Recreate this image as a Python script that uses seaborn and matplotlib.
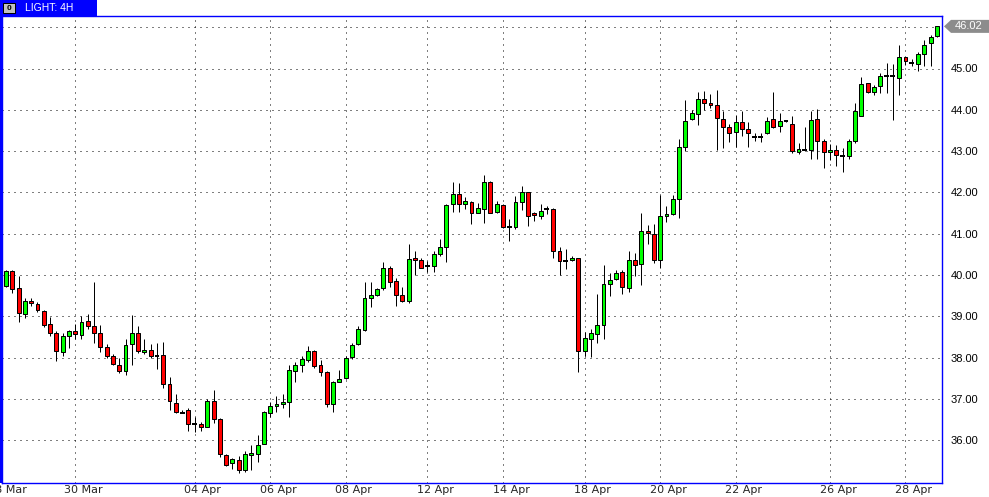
import matplotlib
matplotlib.use("Agg")
import matplotlib.pyplot as plt
from matplotlib.patches import Polygon, Rectangle
import numpy as np
import pandas as pd
import seaborn as sns

# ---------------- data ----------------
opens = [39.74, 40.10, 39.69, 39.06, 39.38, 39.30, 39.13, 38.81, 38.60, 38.14,
         38.52, 38.65, 38.55, 38.89, 38.77, 38.60, 38.26, 38.05, 37.82, 37.68,
         38.32, 38.60, 38.14, 38.19, 38.05, 38.06, 37.35, 36.91, 36.68, 36.72,
         36.39, 36.39, 36.33, 36.94, 36.52, 35.65, 35.44, 35.52, 35.28, 35.65,
         35.67, 35.92, 36.66, 36.82, 36.88, 36.93, 37.67, 37.81, 37.94, 38.16,
         37.82, 37.66, 36.88, 37.41, 37.51, 38.01, 38.33, 38.68, 39.44, 39.52,
         39.68, 40.17, 39.85, 39.51, 39.38, 40.41, 40.37, 40.21, 40.21, 40.50,
         40.68, 41.71, 41.95, 41.71, 41.76, 41.51, 41.61, 42.24, 41.52, 41.69,
         41.17, 41.17, 41.77, 42.00, 41.49, 41.43, 41.59, 41.61, 40.58, 40.35,
         40.36, 40.40, 38.17, 38.46, 38.57, 38.78, 39.78, 39.90, 40.08, 39.68,
         40.37, 40.27, 41.07, 41.00, 40.37, 41.44, 41.48, 41.83, 43.09, 43.77,
         43.89, 44.26, 44.16, 44.11, 43.77, 43.58, 43.46, 43.70, 43.53, 43.35,
         43.35, 43.43, 43.77, 43.61, 43.72, 43.66, 42.99, 43.03, 43.02, 43.77,
         43.24, 42.97, 43.02, 42.89, 42.88, 43.25, 43.86, 44.64, 44.42, 44.57,
         44.81, 44.81, 44.77, 45.27, 45.14, 45.10, 45.34, 45.61, 45.78]

closes = [40.10, 39.66, 39.08, 39.38, 39.32, 39.15, 38.79, 38.60, 38.15, 38.52,
          38.65, 38.56, 38.85, 38.77, 38.60, 38.26, 38.05, 37.85, 37.68, 38.30,
          38.60, 38.16, 38.19, 38.03, 38.04, 37.37, 36.94, 36.68, 36.67, 36.39,
          36.40, 36.32, 36.94, 36.52, 35.66, 35.40, 35.55, 35.29, 35.67, 35.70,
          35.89, 36.69, 36.84, 36.88, 36.93, 37.69, 37.81, 37.97, 38.15, 37.79,
          37.65, 36.88, 37.42, 37.48, 38.00, 38.31, 38.69, 39.44, 39.51, 39.66,
          40.17, 39.84, 39.51, 39.37, 40.39, 40.37, 40.17, 40.21, 40.50, 40.69,
          41.69, 41.95, 41.71, 41.79, 41.51, 41.63, 42.24, 41.51, 41.71, 41.17,
          41.17, 41.77, 42.00, 41.43, 41.45, 41.56, 41.60, 40.58, 40.35, 40.34,
          40.42, 38.17, 38.48, 38.59, 38.78, 39.79, 39.88, 40.06, 39.70, 40.37,
          40.24, 41.06, 41.02, 40.37, 41.44, 41.48, 41.85, 43.11, 43.74, 43.92,
          44.26, 44.16, 44.11, 43.80, 43.58, 43.43, 43.71, 43.53, 43.43, 43.35,
          43.35, 43.74, 43.58, 43.74, 43.72, 43.01, 43.04, 43.03, 43.76, 43.24,
          42.97, 43.02, 42.90, 42.89, 43.25, 43.97, 44.62, 44.42, 44.56, 44.82,
          44.81, 44.81, 45.27, 45.17, 45.14, 45.34, 45.58, 45.76, 46.02]

highs = [40.12, 40.13, 39.97, 39.44, 39.44, 39.35, 39.15, 38.99, 38.65, 38.60,
         38.68, 38.81, 39.00, 39.06, 39.82, 38.80, 38.33, 38.09, 38.00, 38.44,
         39.02, 38.76, 38.46, 38.34, 38.35, 38.37, 37.52, 37.13, 36.73, 36.77,
         36.55, 36.44, 37.00, 37.21, 36.53, 35.66, 35.57, 35.61, 35.73, 35.88,
         36.12, 36.70, 36.92, 37.07, 37.11, 37.81, 37.89, 38.03, 38.27, 38.19,
         37.94, 37.67, 37.43, 37.69, 38.05, 38.35, 38.77, 39.82, 39.82, 39.68,
         40.31, 40.23, 39.92, 39.72, 40.74, 40.59, 40.41, 40.33, 40.57, 40.88,
         41.72, 42.24, 42.22, 41.89, 41.79, 41.75, 42.42, 42.27, 41.79, 41.71,
         41.35, 41.91, 42.15, 42.01, 41.52, 41.72, 41.67, 41.62, 40.68, 40.64,
         40.47, 40.42, 38.62, 38.70, 39.54, 40.24, 40.04, 40.11, 40.11, 40.57,
         40.53, 41.51, 41.20, 41.24, 41.93, 41.66, 41.93, 43.29, 44.24, 44.00,
         44.42, 44.46, 44.39, 44.49, 43.98, 43.66, 43.88, 43.98, 43.70, 43.43,
         43.45, 43.82, 44.43, 43.92, 43.76, 43.84, 43.19, 43.59, 43.98, 44.02,
         43.30, 43.16, 43.15, 43.08, 43.30, 44.17, 44.80, 44.65, 44.61, 44.90,
         45.13, 45.10, 45.56, 45.28, 45.24, 45.40, 45.70, 45.81, 46.02]

lows = [39.72, 39.56, 38.85, 38.95, 39.26, 39.10, 38.73, 38.53, 37.92, 38.05,
        38.23, 38.45, 38.44, 38.69, 38.35, 38.13, 38.00, 37.81, 37.63, 37.58,
        37.83, 38.11, 38.08, 38.00, 37.73, 37.27, 36.74, 36.65, 36.65, 36.23,
        36.19, 36.22, 36.32, 36.42, 35.60, 35.38, 35.30, 35.21, 35.24, 35.28,
        35.48, 35.91, 36.57, 36.69, 36.77, 36.55, 37.40, 37.65, 37.90, 37.74,
        37.55, 36.80, 36.68, 37.40, 37.49, 37.97, 38.31, 38.64, 39.23, 39.50,
        39.63, 39.72, 39.25, 39.35, 39.33, 40.00, 40.16, 40.07, 40.07, 40.47,
        40.31, 41.53, 41.53, 41.59, 41.24, 41.49, 41.27, 41.49, 41.49, 41.14,
        40.83, 41.12, 41.57, 41.19, 41.31, 41.35, 41.47, 40.42, 39.99, 40.15,
        40.35, 37.64, 38.03, 38.02, 38.36, 38.46, 39.50, 39.88, 39.55, 39.60,
        39.97, 39.76, 40.74, 40.28, 40.16, 41.28, 41.46, 41.38, 43.00, 43.75,
        43.62, 44.00, 44.04, 43.03, 43.08, 43.23, 43.11, 43.37, 43.11, 43.25,
        43.23, 43.41, 43.57, 43.47, 43.70, 42.96, 42.94, 43.00, 42.80, 42.80,
        42.58, 42.78, 42.63, 42.50, 42.80, 43.20, 43.84, 44.41, 44.37, 44.41,
        44.41, 43.76, 44.37, 45.09, 45.05, 44.93, 45.06, 45.06, 45.76]

date_labels = ["28 Mar", "30 Mar", "04 Apr", "06 Apr", "08 Apr", "12 Apr",
               "14 Apr", "18 Apr", "20 Apr", "22 Apr", "26 Apr", "28 Apr"]
date_candle = [-1, 11, 30, 42, 54, 67, 79, 92, 104, 116, 131, 143]
price_ticks = [36, 37, 38, 39, 40, 41, 42, 43, 44, 45]
grid_prices = [36, 37, 38, 39, 40, 41, 42, 43, 44, 45, 46]
title_text = "LIGHT: 4H"
last_price = 46.02

df = pd.DataFrame({"open": opens, "high": highs, "low": lows, "close": closes})
df["idx"] = np.arange(len(df))
df["up"] = df["close"] > df["open"]
df["doji"] = (df["close"] - df["open"]).abs() < 0.025

# ---------------- style ----------------
sns.set_style("white")
plt.rcParams["font.family"] = ["Liberation Sans", "DejaVu Sans"]

W, H = 989, 497
fig = plt.figure(figsize=(W / 100, H / 100), dpi=100)
fig.patch.set_facecolor("white")

ax_l, ax_r, ax_t, ax_b = 2, 942, 16, 483
ax = fig.add_axes([ax_l / W, 1 - ax_b / H, (ax_r - ax_l) / W, (ax_b - ax_t) / H])
ax.set_facecolor("white")

px = 1 / 100 * 72  # one pixel in points
BLUE = "#0000ff"
GREEN = "#00ff00"
RED = "#ff0000"

# grid
dot = (0, (1, 5))
for p in grid_prices:
    ax.axhline(p, color="black", lw=px, linestyle=dot, zorder=0)
for c in date_candle:
    ax.axvline(c, color="black", lw=px, linestyle=dot, zorder=0)

# wicks
ax.vlines(df["idx"], df["low"], df["high"], color="black", lw=px, zorder=2)

# bodies
body_w = 0.62
normal = df[~df["doji"]]
colors = np.where(normal["up"], GREEN, RED)
bottoms = np.minimum(normal["open"], normal["close"])
heights = (normal["close"] - normal["open"]).abs()
ax.bar(normal["idx"], heights, bottom=bottoms, width=body_w, color=colors,
       edgecolor="black", linewidth=px, zorder=3)
dj = df[df["doji"]]
ax.hlines(dj["close"], dj["idx"] - body_w / 2 - 0.08, dj["idx"] + body_w / 2 + 0.08,
          color="black", lw=2 * px, zorder=3)

# limits
spacing = 6.29
x0 = 6.0
ax.set_xlim((ax_l - x0) / spacing, (ax_r - x0) / spacing)
ppd = 41.3
y40 = 275
ax.set_ylim(40 - (ax_b - y40) / ppd, 40 + (y40 - ax_t) / ppd)

# ticks
ax.set_xticks([])
ax.yaxis.tick_right()
ax.set_yticks(price_ticks)
ax.set_yticklabels([f"{p:.2f}" for p in price_ticks])
ax.tick_params(axis="y", length=0, pad=6, labelsize=8, labelcolor="black")

for s in ax.spines.values():
    s.set_color(BLUE)
    s.set_linewidth(1.4 * px)
    s.set_visible(True)

# date labels
xtr = ax.get_xaxis_transform()
for lab, c in zip(date_labels, date_candle):
    ax.text(c + 1.3, -0.016, lab, transform=xtr, ha="center", va="center",
            fontsize=8, family=["Liberation Sans Narrow", "DejaVu Sans"],
            clip_on=False)

# last price tag
ytr = ax.get_yaxis_transform()
axw = ax_r - ax_l
def fx(p):
    return (p - ax_l) / axw
dh = 6.5 / ppd
tag = Polygon([(fx(944), last_price), (fx(951), last_price + dh), (fx(989), last_price + dh),
               (fx(989), last_price - dh), (fx(951), last_price - dh)],
              closed=True, transform=ytr, facecolor="#8c8c8c", edgecolor="none",
              clip_on=False, zorder=5)
ax.add_patch(tag)
ax.text(fx(969), last_price, f"{last_price:.2f}", transform=ytr, ha="center",
        va="center", color="white", fontsize=8, clip_on=False, zorder=6)

# left thick blue edge
fig.patches.append(Rectangle((0, 1 - ax_b / H), 2.5 / W, ax_b / H,
                             transform=fig.transFigure, facecolor=BLUE,
                             edgecolor="none", zorder=10))
# title bar
fig.patches.append(Rectangle((0, 1 - 15.5 / H), 97 / W, 15.5 / H,
                             transform=fig.transFigure, facecolor=BLUE,
                             edgecolor="none", zorder=10))
fig.patches.append(Rectangle((3 / W, 1 - 13 / H), 12 / W, 10 / H,
                             transform=fig.transFigure, facecolor="#c0c0c0",
                             edgecolor="black", linewidth=px, zorder=11))
fig.text(9 / W, 1 - 8 / H, "0", ha="center", va="center", fontsize=6,
         fontweight="bold", color="black", zorder=12)
fig.text(25 / W, 1 - 8 / H, title_text, ha="left", va="center", fontsize=7.5,
         color="white", zorder=12)

fig.savefig("out.png", dpi=100, facecolor="white")
